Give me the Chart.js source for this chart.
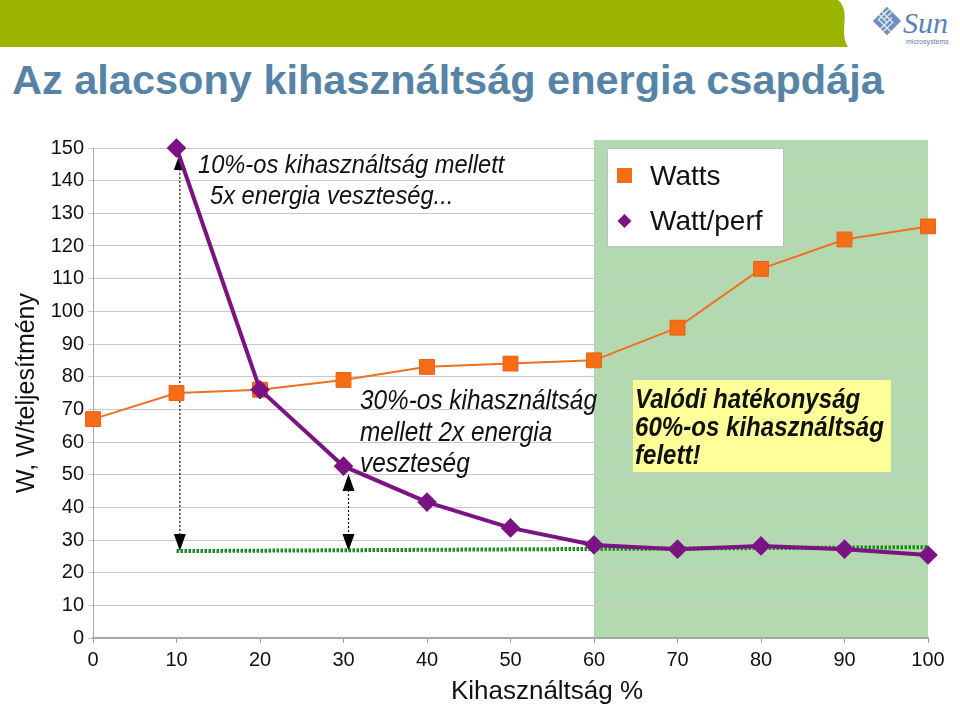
<!DOCTYPE html>
<html lang="hu">
<head>
<meta charset="UTF-8">
<title>Az alacsony kihasználtság energia csapdája</title>
<script src="https://cdn.jsdelivr.net/npm/chart.js"></script>
<style>
  html, body { margin: 0; padding: 0; background: #fff; }
  body { width: 960px; height: 708px; position: relative; overflow: hidden; font-family: 'Liberation Sans', Arial, sans-serif; }
  #chart { position: absolute; left: 0; top: 0; }
  #bar { position: absolute; left: 0; top: 0; }
  #logo { position: absolute; left: 860px; top: 0; }
  #title { position: absolute; left: 12px; top: 59px; margin: 0; font-size: 41.5px; line-height: 41px; font-weight: bold; color: #5784a6; white-space: nowrap; }
</style>
</head>
<body>
<svg id="bar" width="860" height="48">
  <path d="M0 0 H838 C852 12 838 32 848 47 H0 Z" fill="#9bb400"/>
</svg>
<svg id="logo" width="100" height="50">
  <g transform="translate(27 21) rotate(45)">
    <rect x="-10" y="-10" width="20" height="20" fill="#6d8fc0"/>
    <path d="M-7 -10 V6 M-3 -10 V2 M1 -6 V10 M5 -2 V10 M-10 -3 H6 M-10 1 H2 M-6 5 H10" stroke="#dfe8f4" stroke-width="1.4" fill="none"/>
  </g>
  <text x="43" y="33" font-family="'Liberation Serif', serif" font-style="italic" font-size="30" fill="#5a80b9">Sun</text>
  <text x="46" y="44" font-family="'Liberation Sans', sans-serif" font-size="7" fill="#5a80b9">microsystems</text>
</svg>
<h1 id="title">Az alacsony kihasználtság energia csapdája</h1>
<canvas id="chart" width="960" height="708"></canvas>

<script>
    // Kihasználtság (%) on x
    const utilization = [0, 10, 20, 30, 40, 50, 60, 70, 80, 90, 100];
    const watts = [67, 75, 76, 79, 83, 84, 85, 95, 113, 122, 126];
    const wattPerf = [null, 150, 76, 52.6, 41.6, 33.7, 28.5, 27.2, 28.2, 27.2, 25.4];
    // flat trend line under the curve
    const trendX = [10, 100];
    const trendY = [26.6, 27.8];
    const yTicks = [0, 10, 20, 30, 40, 50, 60, 70, 80, 90, 100, 110, 120, 130, 140, 150];
    // shaded "good" zone and the dotted arrows
    const goodZone = [60, 100];
    const arrowX = [10.4, 30.6];
    const arrowTop = [148.5, 50.2];
    const arrowBottom = [26.6, 26.6];

    const FONT = "'Liberation Sans', Arial, sans-serif";

    function pts(xs, ys) {
        return xs.map((x, i) => ({ x: x, y: ys[i] })).filter(p => p.y !== null);
    }

    function drawText(ctx, str, x, y, font, sx) {
        ctx.save();
        ctx.translate(x, y);
        ctx.scale(sx, 1);
        ctx.font = font;
        ctx.fillText(str, 0, 0);
        ctx.restore();
    }

    function arrowHead(ctx, x, tipY, dir) {
        ctx.beginPath();
        ctx.moveTo(x, tipY);
        ctx.lineTo(x - 6, tipY + dir * 17);
        ctx.lineTo(x + 6, tipY + dir * 17);
        ctx.closePath();
        ctx.fill();
    }

    const slidePlugin = {
        id: 'slide',
        beforeDraw(chart) {
            const { ctx, chartArea, scales: { x, y } } = chart;
            const l = x.getPixelForValue(goodZone[0]);
            const r = x.getPixelForValue(goodZone[1]);
            const top = chartArea.top - 8;
            ctx.save();
            ctx.fillStyle = '#b3d9b1';
            ctx.fillRect(l, top, r - l, chartArea.bottom - top);
            ctx.restore();
        },
        beforeDatasetsDraw(chart) {
            const { ctx, scales: { x, y } } = chart;
            ctx.save();
            ctx.strokeStyle = '#111';
            ctx.fillStyle = '#000';
            ctx.lineWidth = 1.2;
            arrowX.forEach((v, i) => {
                const px = x.getPixelForValue(v);
                const t = y.getPixelForValue(arrowTop[i]);
                const b = y.getPixelForValue(arrowBottom[i]);
                ctx.setLineDash([2, 2]);
                ctx.beginPath();
                ctx.moveTo(px, t + 4);
                ctx.lineTo(px, b - 4);
                ctx.stroke();
                ctx.setLineDash([]);
                arrowHead(ctx, px, t, 1);
                arrowHead(ctx, px, b, -1);
            });
            ctx.restore();
        },
        afterDraw(chart) {
            const { ctx } = chart;
            const ds = chart.data.datasets;
            ctx.save();
            ctx.fillStyle = '#111';
            ctx.textBaseline = 'alphabetic';

            // legend box
            const lx = 607, ly = 148;
            ctx.fillStyle = '#fff';
            ctx.fillRect(lx, ly, 176, 98);
            ctx.strokeStyle = '#c0c0c0';
            ctx.lineWidth = 1;
            ctx.strokeRect(lx + 0.5, ly + 0.5, 176, 98);
            ctx.fillStyle = ds[1].pointBackgroundColor;
            ctx.fillRect(lx + 10, ly + 20, 15, 15);
            ctx.fillStyle = ds[0].pointBackgroundColor;
            ctx.beginPath();
            ctx.moveTo(lx + 17.5, ly + 66);
            ctx.lineTo(lx + 24.5, ly + 73);
            ctx.lineTo(lx + 17.5, ly + 80);
            ctx.lineTo(lx + 10.5, ly + 73);
            ctx.closePath();
            ctx.fill();
            ctx.fillStyle = '#111';
            drawText(ctx, ds[1].label, lx + 43, ly + 37, '28px ' + FONT, 1);
            drawText(ctx, ds[0].label, lx + 43, ly + 82, '28px ' + FONT, 1);

            // yellow note
            ctx.fillStyle = '#ffff99';
            ctx.fillRect(633, 380, 258, 92);
            ctx.fillStyle = '#111';
            const bi = 'italic bold 28px ' + FONT;
            drawText(ctx, 'Valódi hatékonyság', 635, 408, bi, 0.86);
            drawText(ctx, '60%-os kihasználtság', 635, 436, bi, 0.86);
            drawText(ctx, 'felett!', 635, 464, bi, 0.86);

            // italic notes
            const it1 = 'italic 26px ' + FONT;
            drawText(ctx, '10%-os kihasználtság mellett', 198, 173, it1, 0.91);
            drawText(ctx, '5x energia veszteség...', 210, 204, it1, 0.91);
            const it2 = 'italic 28px ' + FONT;
            drawText(ctx, '30%-os kihasználtság', 360, 409, it2, 0.87);
            drawText(ctx, 'mellett 2x energia', 360, 441, it2, 0.87);
            drawText(ctx, 'veszteség', 360, 472, it2, 0.87);

            // x axis title
            ctx.textAlign = 'center';
            drawText(ctx, 'Kihasználtság %', 547, 699, '26px ' + FONT, 1);
            ctx.restore();
        }
    };

    new Chart(document.getElementById('chart'), {
        type: 'line',
        data: {
            datasets: [{
                label: 'Watt/perf',
                data: pts(utilization, wattPerf),
                borderColor: '#7b1382',
                backgroundColor: '#7b1382',
                pointBackgroundColor: '#7b1382',
                pointBorderColor: '#7b1382',
                borderWidth: 4,
                pointStyle: 'rectRot',
                pointRadius: 7,
                clip: false
            }, {
                label: 'Watts',
                data: pts(utilization, watts),
                borderColor: '#f0701f',
                backgroundColor: '#f76d17',
                pointBackgroundColor: '#f76d17',
                pointBorderColor: '#e86010',
                borderWidth: 2,
                pointStyle: 'rect',
                pointRadius: 10.5,
                pointBorderWidth: 1,
                clip: false
            }, {
                label: 'trend',
                data: pts(trendX, trendY),
                borderColor: '#1f8a1f',
                borderWidth: 4,
                borderDash: [2.5, 1.5],
                pointRadius: 0
            }]
        },
        options: {
            responsive: false,
            animation: false,
            layout: { padding: { top: 148, right: 32, left: 0, bottom: 0 } },
            plugins: { legend: { display: false }, tooltip: { enabled: false } },
            scales: {
                x: {
                    type: 'linear',
                    min: 0,
                    max: 100,
                    afterBuildTicks: s => { s.ticks = utilization.map(v => ({ value: v })); },
                    afterFit: s => { s.height = 70; },
                    ticks: { font: { size: 20, family: FONT }, color: '#111', padding: 5, maxRotation: 0, autoSkip: false },
                    grid: { drawOnChartArea: false, tickLength: 5, color: '#999' },
                    border: { color: '#a8a8a8', width: 2 }
                },
                y: {
                    min: 0,
                    max: 150,
                    afterBuildTicks: s => { s.ticks = yTicks.map(v => ({ value: v })); },
                    afterFit: s => { s.width = 93; },
                    ticks: { font: { size: 20, family: FONT }, color: '#111', padding: 4, autoSkip: false },
                    grid: { color: '#c8c8c8', tickLength: 5 },
                    border: { color: '#a8a8a8' },
                    title: {
                        display: true,
                        text: 'W, W/teljesítmény',
                        font: { size: 25, family: FONT },
                        color: '#111',
                        padding: { top: 12, bottom: 0 }
                    }
                }
            }
        },
        plugins: [slidePlugin]
    });
</script>
</body>
</html>
